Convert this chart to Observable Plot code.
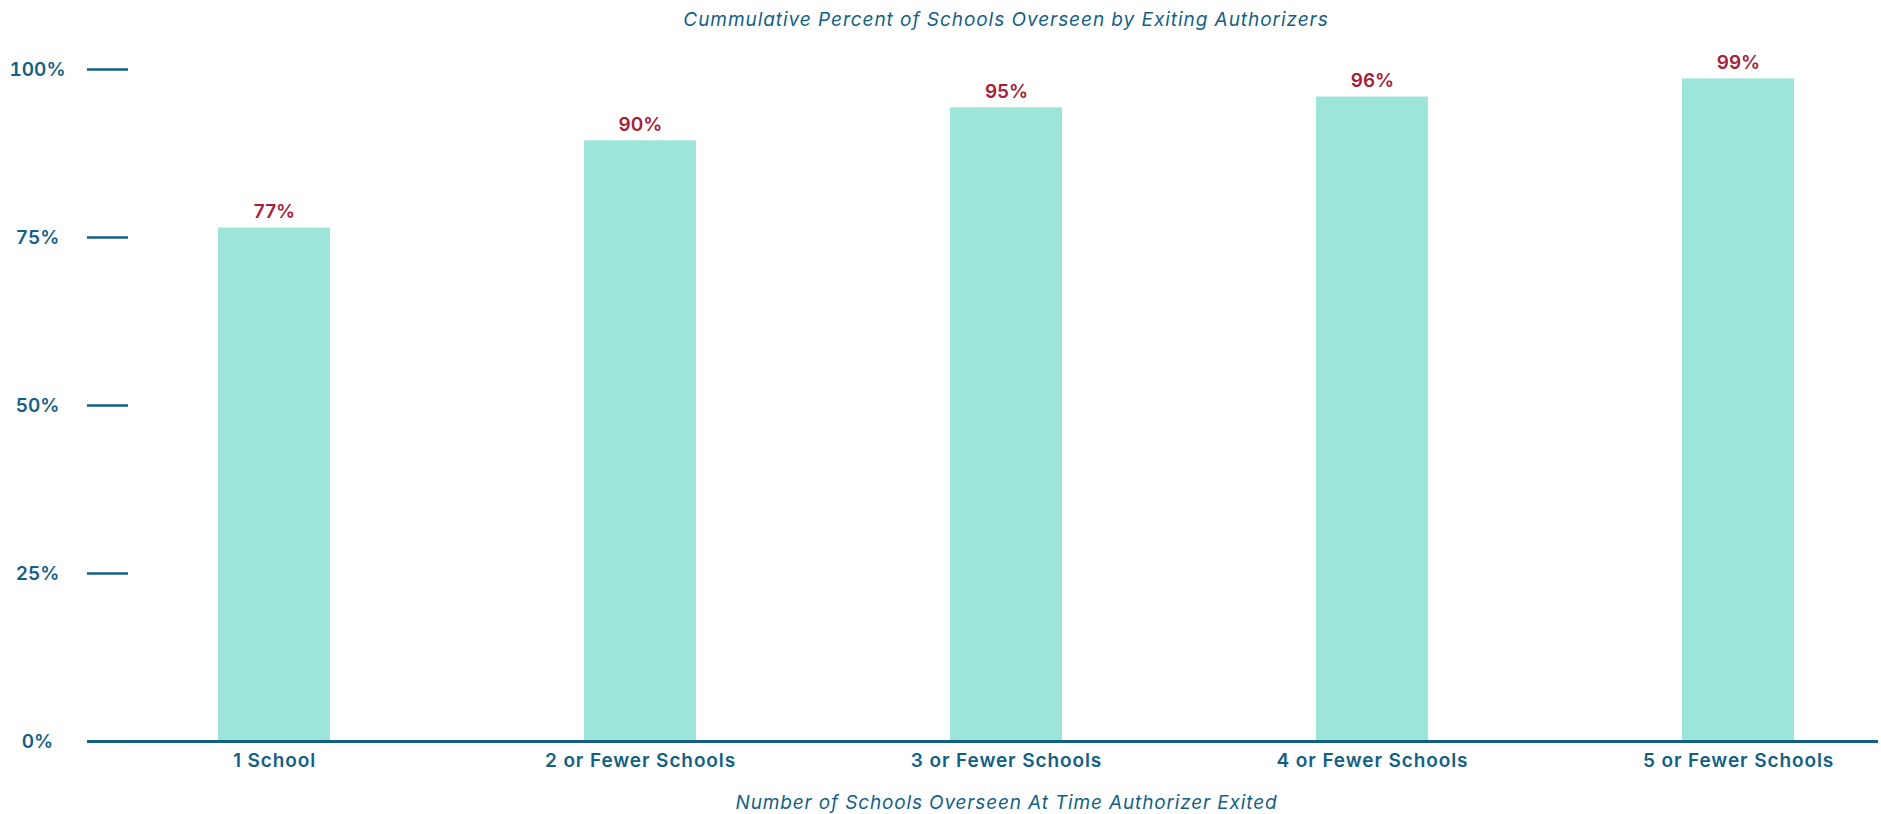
<!DOCTYPE html>
<html>
<head>
<meta charset="utf-8">
<script src="https://cdn.jsdelivr.net/npm/d3@7"></script>
<script src="https://cdn.jsdelivr.net/npm/@observablehq/plot@0.6"></script>
<style>
  html, body { margin: 0; padding: 0; background: #fff; overflow: hidden; }
  #title {
    width: 1881px; height: 36px; line-height: 40px;
    box-sizing: border-box; padding-left: 131px;
    text-align: center; font-family: Inter, sans-serif; font-style: italic;
    font-size: 19px; color: #135f85; letter-spacing: 0.95px;
  }
  #chart svg { display: block; overflow: visible; }
  #chart g[aria-label="x-axis tick label"] text { letter-spacing: 0.9px; }
</style>
</head>
<body>
<div id="title">Cummulative Percent of Schools Overseen by Exiting Authorizers</div>
<div id="chart"></div>
<script>
const categories = ["1 School", "2 or Fewer Schools", "3 or Fewer Schools", "4 or Fewer Schools", "5 or Fewer Schools"];
const values = [76.4, 89.4, 94.3, 95.9, 98.6];
const valueLabels = ["77%", "90%", "95%", "96%", "99%"];
const yTicks = [0, 25, 50, 75, 100];
const xTitle = "Number of Schools Overseen At Time Authorizer Exited";

const data = categories.map((c, i) => ({category: c, value: values[i], label: valueLabels[i]}));

const blue = "#135f85";
const red = "#a6203a";
const barColor = "#9ce5d8";

const chart = Plot.plot({
  width: 1881,
  height: 778,
  marginTop: 33,
  marginBottom: 73,
  marginLeft: 128,
  marginRight: 3,
  style: {fontFamily: "Inter, sans-serif", background: "#fff", overflow: "visible"},
  x: {domain: categories, range: [90, 1922], paddingInner: 0.694, paddingOuter: 0.347, label: null},
  y: {domain: [0, 100], label: null},
  marks: [
    Plot.barY(data, {x: "category", y: "value", fill: barColor}),
    Plot.ruleY([0], {stroke: blue, strokeWidth: 3, insetLeft: -41}),
    Plot.axisY(yTicks, {
      tickSize: 41, tickPadding: 50, textAnchor: "middle",
      tickFormat: d => d + "%", stroke: blue, strokeWidth: 2.5,
      fill: blue, fontSize: 19, fontWeight: 600, label: null
    }),
    Plot.axisX({
      tickSize: 0, tickPadding: 12, fill: blue, fontSize: 19, fontWeight: 600, label: null
    }),
    Plot.text(data, {
      x: "category", y: "value", text: "label", dy: -10, lineAnchor: "bottom",
      fill: red, fontSize: 19, fontWeight: 600
    }),
    Plot.text([xTitle], {
      frameAnchor: "bottom", dy: 67, dx: 3, fill: blue,
      fontSize: 19, fontStyle: "italic"
    })
  ]
});
chart.querySelectorAll("text").forEach(t => {
  if (t.textContent === xTitle) t.style.letterSpacing = "0.85px";
});
document.getElementById("chart").appendChild(chart);
</script>
</body>
</html>
